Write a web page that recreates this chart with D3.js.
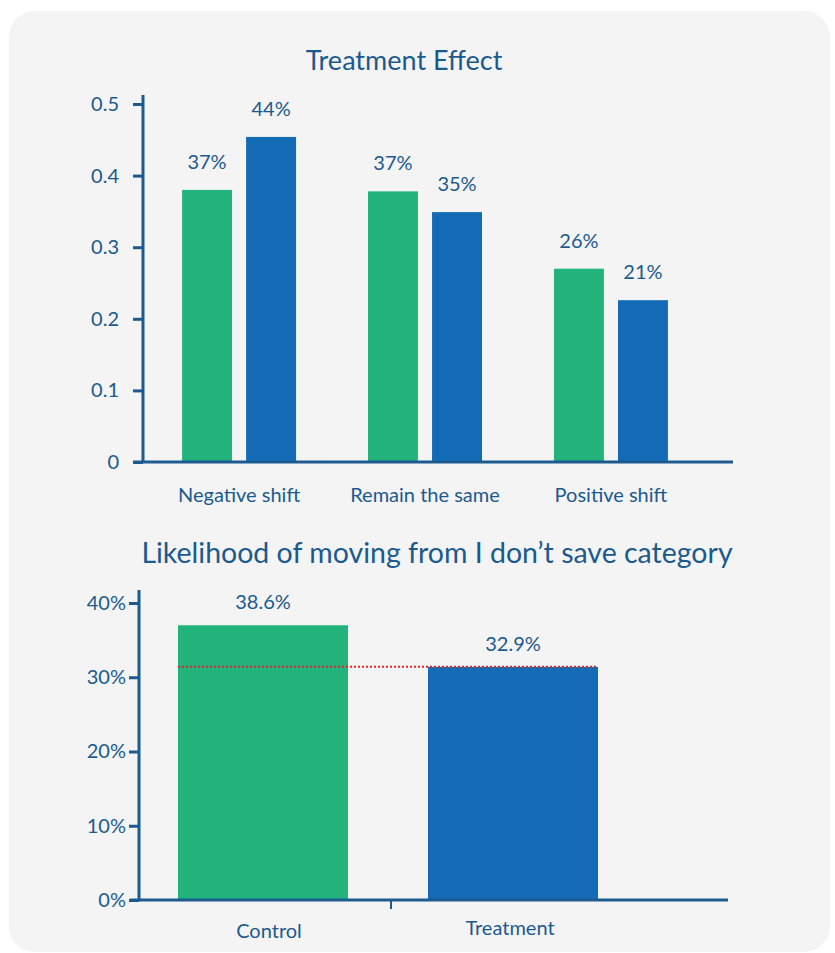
<!DOCTYPE html>
<html>
<head>
<meta charset="utf-8">
<script src="https://cdn.jsdelivr.net/npm/d3@7"></script>
<style>
  body { margin: 0; background: #fff; font-family: Lato, "Open Sans", sans-serif; }
  svg text { fill: #1b5a8f; }
</style>
</head>
<body>
<div id="chart"></div>
<script>
/* DATA */
const shiftCats = ["Negative shift", "Remain the same", "Positive shift"];
const groups = ["Control", "Treatment"];
const controlShift = [0.38, 0.378, 0.27];
const treatmentShift = [0.454, 0.349, 0.226];
const controlShiftLabels = ["37%", "37%", "26%"];
const treatmentShiftLabels = ["44%", "35%", "21%"];
const topTicks = [0, 0.1, 0.2, 0.3, 0.4, 0.5];

const moveValues = [0.37, 0.314];
const moveLabels = ["38.6%", "32.9%"];
const bottomTicks = [0, 0.1, 0.2, 0.3, 0.4];
const refLine = 0.314;

/* CONSTANTS */
const width = 835, height = 953;
const textColor = "#1b5a8f", axisColor = "#1d5a90";
const colors = { Control: "#22b47c", Treatment: "#126bb4" };

const svg = d3.select("#chart").append("svg")
  .attr("width", width)
  .attr("height", height);

// card background
svg.append("rect")
  .attr("x", 9).attr("y", 11)
  .attr("width", 821).attr("height", 941)
  .attr("rx", 26)
  .attr("fill", "#f4f4f4");

/* TOP CHART */
svg.append("text")
  .attr("x", 404).attr("y", 70)
  .attr("text-anchor", "middle")
  .attr("font-size", 27)
  .text("Treatment Effect");

const x0 = d3.scaleBand().domain(shiftCats).range([146, 704]).paddingInner(0.387).paddingOuter(0.194);
const x1 = d3.scaleBand().domain(groups).range([0, x0.bandwidth()]).paddingInner(0.22);
const y0 = d3.scaleLinear().domain([0, 0.5]).range([462, 104]);

const shiftData = shiftCats.map((c, i) => ({
  cat: c,
  vals: [
    { g: "Control", v: controlShift[i], label: controlShiftLabels[i] },
    { g: "Treatment", v: treatmentShift[i], label: treatmentShiftLabels[i] }
  ]
}));

const grp = svg.append("g").selectAll("g")
  .data(shiftData)
  .join("g")
  .attr("transform", d => `translate(${x0(d.cat)},0)`);

grp.selectAll("rect")
  .data(d => d.vals)
  .join("rect")
  .attr("x", d => x1(d.g))
  .attr("width", x1.bandwidth())
  .attr("y", d => y0(d.v))
  .attr("height", d => y0(0) - y0(d.v))
  .attr("fill", d => colors[d.g]);

grp.selectAll("text")
  .data(d => d.vals)
  .join("text")
  .attr("x", d => x1(d.g) + x1.bandwidth() / 2)
  .attr("y", d => y0(d.v) - 21)
  .attr("text-anchor", "middle")
  .attr("font-size", 20)
  .text(d => d.label);

// axes
const yAxisTop = svg.append("g")
  .attr("transform", "translate(143,0)")
  .call(d3.axisLeft(y0).tickValues(topTicks).tickFormat(d => d === 0 ? "0" : d3.format(".1f")(d)).tickSize(10).tickPadding(14));
yAxisTop.select(".domain").attr("d", `M0,${y0(0)}V95`);

svg.append("line")
  .attr("x1", 133).attr("x2", 733)
  .attr("y1", y0(0)).attr("y2", y0(0))
  .attr("stroke", axisColor).attr("stroke-width", 3);

svg.append("g").selectAll("text")
  .data(shiftCats)
  .join("text")
  .attr("x", d => x0(d) + x0.bandwidth() / 2)
  .attr("y", 502)
  .attr("text-anchor", "middle")
  .attr("font-size", 20)
  .text(d => d);

/* BOTTOM CHART */
svg.append("text")
  .attr("x", 437).attr("y", 563)
  .attr("text-anchor", "middle")
  .attr("font-size", 28.5)
  .text("Likelihood of moving from I don\u2019t save category");

const xb = d3.scaleBand().domain(groups).range([138, 638]).paddingInner(0.32).paddingOuter(0.16);
const yb = d3.scaleLinear().domain([0, 0.4]).range([900, 603]);

svg.append("g").selectAll("rect")
  .data(groups)
  .join("rect")
  .attr("x", d => xb(d))
  .attr("width", xb.bandwidth())
  .attr("y", (d, i) => yb(moveValues[i]))
  .attr("height", (d, i) => yb(0) - yb(moveValues[i]))
  .attr("fill", d => colors[d]);

svg.append("g").selectAll("text")
  .data(groups)
  .join("text")
  .attr("x", d => xb(d) + xb.bandwidth() / 2)
  .attr("y", (d, i) => yb(moveValues[i]) - 16)
  .attr("text-anchor", "middle")
  .attr("font-size", 20)
  .text((d, i) => moveLabels[i]);

// reference line
svg.append("line")
  .attr("x1", xb("Control")).attr("x2", xb("Treatment") + xb.bandwidth())
  .attr("y1", yb(refLine)).attr("y2", yb(refLine))
  .attr("stroke", "#e0242a").attr("stroke-width", 2)
  .attr("stroke-dasharray", "2,2");

const yAxisBottom = svg.append("g")
  .attr("transform", "translate(139,0)")
  .call(d3.axisLeft(yb).tickValues(bottomTicks).tickFormat(d3.format(".0%")).tickSize(10).tickPadding(3));
yAxisBottom.select(".domain").attr("d", `M0,${yb(0)}V590`);

svg.append("line")
  .attr("x1", 130).attr("x2", 728)
  .attr("y1", yb(0)).attr("y2", yb(0))
  .attr("stroke", axisColor).attr("stroke-width", 3);

// tick between categories
const midTick = xb("Treatment") - xb.step() * xb.paddingInner() / 2 + 3;
svg.append("line")
  .attr("x1", midTick).attr("x2", midTick)
  .attr("y1", yb(0)).attr("y2", yb(0) + 9)
  .attr("stroke", axisColor).attr("stroke-width", 2);

svg.append("g").selectAll("text")
  .data(groups)
  .join("text")
  .attr("x", d => xb(d) + xb.bandwidth() / 2 + (d === "Control" ? 6 : -3))
  .attr("y", d => d === "Control" ? 938 : 935)
  .attr("text-anchor", "middle")
  .attr("font-size", 20)
  .text(d => d);

// axis styling
svg.selectAll(".tick line").attr("stroke", axisColor).attr("stroke-width", 3);
svg.selectAll(".domain").attr("stroke", axisColor).attr("stroke-width", 3);
svg.selectAll(".tick text")
  .attr("font-size", 20)
  .attr("font-family", "Lato, 'Open Sans', sans-serif")
  .attr("fill", textColor);
</script>
</body>
</html>
